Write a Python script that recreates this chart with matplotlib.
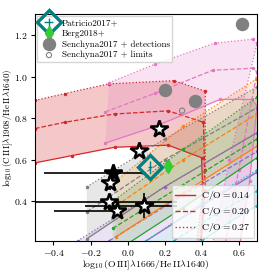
import numpy as np
import matplotlib
matplotlib.use("Agg")
from matplotlib import pyplot as plt
from matplotlib.lines import Line2D

plt.rcParams['font.family'] = 'cmr10'
plt.rcParams['mathtext.fontset'] = 'cm'
plt.rcParams['axes.formatter.use_mathtext'] = True
plt.rcParams['font.size'] = 7

# model grids: x / y for C/O = 0.14 (solid), 0.20 (dashed), 0.27 (dotted)
red_x = [[-0.50, -0.30, -0.07, 0.22, 0.40, 0.41, 0.39],
         [-0.50, -0.34, -0.07, 0.22, 0.41, 0.42, 0.38],
         [-0.50, -0.34, -0.10, 0.25, 0.42, 0.42, 0.36]]
red_y = [[0.585, 0.62, 0.66, 0.67, 0.61, 0.35, 0.10],
         [0.75, 0.78, 0.82, 0.835, 0.78, 0.45, 0.10],
         [0.885, 0.918, 0.965, 0.98, 0.93, 0.55, 0.10]]

pink_x = [[-0.12, 0.15, 0.50, 0.67, 0.70, 0.66, 0.60],
          [-0.12, 0.15, 0.46, 0.68, 0.70, 0.60, 0.52],
          [-0.10, 0.15, 0.47, 0.68, 0.70, 0.55, 0.45]]
pink_y = [[0.68, 0.76, 0.89, 0.89, 0.86, 0.50, 0.15],
          [0.83, 0.92, 1.03, 1.04, 1.02, 0.55, 0.15],
          [0.97, 1.06, 1.16, 1.18, 1.16, 0.60, 0.15]]

orange_x = [[-0.06, 0.30, 0.70], [-0.06, 0.30, 0.70], [-0.06, 0.30, 0.70]]
orange_y = [[0.23, 0.44, 0.665], [0.38, 0.60, 0.82], [0.50, 0.76, 0.99]]

green_x = [[-0.08, 0.30, 0.70], [-0.08, 0.30, 0.70], [-0.08, 0.30, 0.70]]
green_y = [[0.15, 0.37, 0.61], [0.27, 0.48, 0.70], [0.40, 0.65, 0.90]]

gray_x = [[-0.22, 0.20, 0.70], [-0.22, 0.20, 0.70], [-0.22, 0.20, 0.70]]
gray_y = [[0.22, 0.47, 0.73], [0.35, 0.60, 0.85], [0.47, 0.70, 0.95]]

purple_x = [[0.10, 0.40, 0.70], [-0.10, 0.30, 0.70], [-0.27, 0.20, 0.70]]
purple_y = [[0.21, 0.38, 0.54], [0.21, 0.43, 0.64], [0.21, 0.47, 0.73]]

blue_x = [[0.40, 0.55, 0.70], [0.25, 0.48, 0.70], [0.10, 0.40, 0.70]]
blue_y = [[0.21, 0.30, 0.38], [0.21, 0.34, 0.45], [0.21, 0.39, 0.55]]

grids = [('tab:red', red_x, red_y, 0.25),
         ('tab:pink', pink_x, pink_y, 0.2),
         ('tab:gray', gray_x, gray_y, 0.18),
         ('tab:purple', purple_x, purple_y, 0.18),
         ('tab:blue', blue_x, blue_y, 0.15),
         ('tab:orange', orange_x, orange_y, 0.15),
         ('tab:green', green_x, green_y, 0.15)]
line_colors = {'tab:blue': 'tab:cyan'}

# stars: x, y, xerr low, xerr high, yerr, filled
star_x = [0.17, 0.06, -0.08, -0.095, -0.10, -0.055, 0.09]
star_y = [0.75, 0.64, 0.535, 0.487, 0.395, 0.353, 0.378]
star_xlo = [0.0, 0.0, 0.37, 0.0, 0.45, 0.34, 0.32]
star_xhi = [0.0, 0.0, 0.17, 0.0, 0.37, 0.0, 0.18]
star_yerr = [0.03, 0.02, 0.04, 0.03, 0.03, 0.02, 0.06]
star_filled = [False, False, True, False, False, False, False]

patricio_x, patricio_y = [0.12], [0.565]
berg_x, berg_y = [0.22], [0.57]
sen_det_x = [0.62, 0.205, 0.366]
sen_det_y = [1.253, 0.937, 0.88]
sen_lim_x = [0.295]
sen_lim_y = [0.836]

co_labels = ['0.14', '0.20', '0.27']
styles = ['-', '--', ':']

fig = plt.figure(figsize=(2.61, 2.71), dpi=100)
ax = fig.add_axes([0.134, 0.111, 0.851, 0.837])

for col, gx, gy, a in grids:
    px = list(gx[0]) + list(gx[2])[::-1]
    py = list(gy[0]) + list(gy[2])[::-1]
    ax.fill(px, py, color=col, alpha=a, lw=0, zorder=1)
    lc = line_colors.get(col, col)
    for i in range(3):
        ax.plot(gx[i], gy[i], ls=styles[i], color=lc, lw=0.9,
                marker='o', ms=1.5, zorder=2)

for i in range(len(star_x)):
    ax.errorbar(star_x[i], star_y[i],
                xerr=[[star_xlo[i]], [star_xhi[i]]], yerr=star_yerr[i],
                fmt='none', ecolor='k', elinewidth=1.2, zorder=5)
    ax.plot(star_x[i], star_y[i], marker='*', ms=13, mew=1.8,
            mec='k', mfc='k' if star_filled[i] else 'white', zorder=6)

pat = ax.errorbar(patricio_x, patricio_y, xerr=0.01, yerr=0.03, fmt='D',
                  ms=12.5, mew=2.4, mfc='none', mec='teal', ecolor='teal',
                  elinewidth=1.0, zorder=7)
berg = ax.errorbar(berg_x, berg_y, yerr=0.03, fmt='d', ms=7.5,
                   color='limegreen', elinewidth=1.0, zorder=7)
det = ax.scatter(sen_det_x, sen_det_y, s=75, color='gray', zorder=7)
lim = ax.scatter(sen_lim_x, sen_lim_y, s=14, facecolor='none',
                 edgecolor='gray', lw=0.8, zorder=7)

leg1 = ax.legend([pat, berg, det, lim],
                 ['Patricio2017+', 'Berg2018+', 'Senchyna2017 + detections',
                  'Senchyna2017 + limits'],
                 loc='upper left', fontsize=6.5, labelspacing=0.25,
                 handletextpad=0.4, borderpad=0.3, borderaxespad=0.25,
                 fancybox=False)
ax.add_artist(leg1)

co_handles = [Line2D([], [], color='tab:red', ls=styles[i], lw=1)
              for i in range(3)]
ax.legend(co_handles, [r'$\mathrm{C/O} = ' + c + '$' for c in co_labels],
          loc='lower right', fontsize=7, labelspacing=0.3,
          handletextpad=0.6, borderpad=0.4, borderaxespad=0.3,
          fancybox=False, framealpha=0.8)

ax.set_xlim(-0.5, 0.7)
ax.set_ylim(0.21, 1.3)
ax.set_xticks([-0.4, -0.2, 0.0, 0.2, 0.4, 0.6])
ax.set_yticks([0.4, 0.6, 0.8, 1.0, 1.2])
ax.tick_params(labelsize=7, pad=2, length=3)
ax.set_xlabel(r'$\log_{10}(\mathrm{O\,III]}\lambda1666/\mathrm{He\,II}\lambda1640)$',
              fontsize=7, labelpad=0.5)
ax.set_ylabel(r'$\log_{10}(\mathrm{C\,III]}\lambda1908/\mathrm{He\,II}\lambda1640)$',
              fontsize=6.5)
ax.yaxis.set_label_coords(-0.088, 0.5)

fig.savefig('out.png', dpi=100)
